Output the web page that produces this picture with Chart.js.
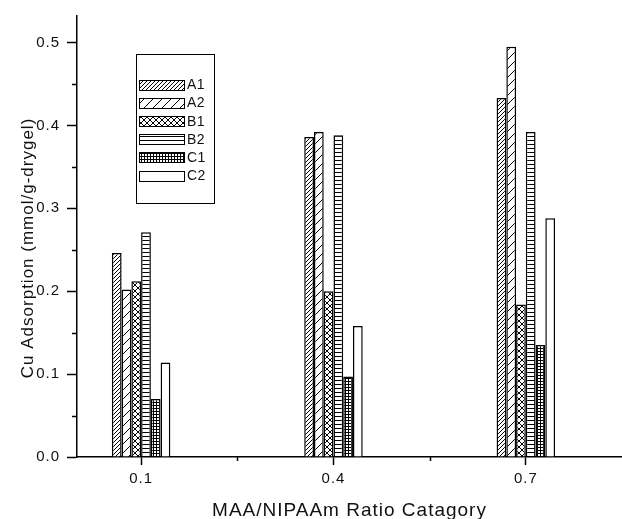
<!DOCTYPE html>
<html>
<head>
<meta charset="utf-8">
<script src="https://cdn.jsdelivr.net/npm/chart.js@4/dist/chart.umd.min.js"></script>
<style>
html,body{margin:0;padding:0;background:#fff;}
#wrap{position:relative;width:622px;height:519px;}
</style>
</head>
<body>
<div id="wrap"><canvas id="c"></canvas></div>
<script>
// ---- data ----
const categories = [0.1, 0.4, 0.7];
const seriesNames = ['A1', 'A2', 'B1', 'B2', 'C1', 'C2'];
const A1 = [0.246, 0.386, 0.433];
const A2 = [0.202, 0.392, 0.495];
const B1 = [0.212, 0.200, 0.184];
const B2 = [0.271, 0.388, 0.392];
const C1 = [0.070, 0.097, 0.135];
const C2 = [0.114, 0.158, 0.288];
const xTicks = [0.1, 0.4, 0.7];
const xMinorTicks = [0.25, 0.55];
const yTicks = [0, 0.1, 0.2, 0.3, 0.4, 0.5];
const yMinorTicks = [0.05, 0.15, 0.25, 0.35, 0.45];
const xTitle = 'MAA/NIPAAm Ratio Catagory';
const yTitle = 'Cu Adsorption (mmol/g-drygel)    ';

const seriesValues = [A1, A2, B1, B2, C1, C2];
const patternKinds = ['dense', 'sparse', 'cross', 'horiz', 'grid', 'blank'];

function makePattern(kind) {
  const sizes = {dense: 4, sparse: 9, cross: 6, horiz: 4, grid: 3, blank: 4};
  const n = sizes[kind];
  const cv = document.createElement('canvas');
  cv.width = n; cv.height = n;
  const g = cv.getContext('2d');
  g.fillStyle = '#fff';
  g.fillRect(0, 0, n, n);
  g.fillStyle = '#000';
  for (let i = 0; i < n; i++) {
    if (kind === 'dense' || kind === 'sparse') g.fillRect(i, n - 1 - i, 1, 1);
    if (kind === 'cross') { g.fillRect(i, n - 1 - i, 1, 1); g.fillRect(i, i, 1, 1); }
  }
  if (kind === 'horiz') g.fillRect(0, 0, n, 1);
  if (kind === 'grid') { g.fillRect(0, 0, n, 1); g.fillRect(0, 0, 1, n); }
  const ctx = document.createElement('canvas').getContext('2d');
  return ctx.createPattern(cv, 'repeat');
}

const FONT = "'Liberation Sans', Arial, sans-serif";

const datasets = seriesNames.map((name, k) => ({
  label: name,
  data: categories.map((x, i) => ({x: x, y: seriesValues[k][i]})),
  backgroundColor: makePattern(patternKinds[k]),
  borderColor: '#000',
  borderWidth: 1.5,
  categoryPercentage: 0.304,
  barPercentage: 1.0
}));

const spacingPlugin = {
  id: 'spacing',
  beforeDraw(chart) { chart.ctx.letterSpacing = '1px'; }
};

const minorTicksPlugin = {
  id: 'minorTicks',
  afterDraw(chart) {
    const ctx = chart.ctx;
    const xs = chart.scales.x, ys = chart.scales.y;
    ctx.save();
    ctx.strokeStyle = '#000';
    ctx.lineWidth = 1.5;
    ctx.beginPath();
    xMinorTicks.forEach(v => {
      const px = Math.round(xs.getPixelForValue(v)) + 0.5;
      ctx.moveTo(px, xs.top); ctx.lineTo(px, xs.top + 4);
    });
    yMinorTicks.forEach(v => {
      const py = Math.round(ys.getPixelForValue(v)) + 0.5;
      ctx.moveTo(ys.right, py); ctx.lineTo(ys.right - 5, py);
    });
    ctx.stroke();
    ctx.restore();
  }
};

const boxLegendPlugin = {
  id: 'boxLegend',
  afterDraw(chart) {
    const ctx = chart.ctx;
    const area = chart.chartArea;
    const bx = area.left + 59, by = area.top + 38, bw = 78, bh = 149;
    ctx.save();
    ctx.letterSpacing = '0.5px';
    ctx.fillStyle = '#fff';
    ctx.fillRect(bx, by, bw, bh);
    ctx.strokeStyle = '#000';
    ctx.lineWidth = 1;
    ctx.strokeRect(bx + 0.5, by + 0.5, bw, bh);
    ctx.font = '14px ' + FONT;
    ctx.textBaseline = 'middle';
    chart.data.datasets.forEach((ds, i) => {
      const cy = by + 31 + i * 18.1;
      ctx.fillStyle = ds.backgroundColor;
      ctx.fillRect(bx + 3, Math.round(cy - 5), 45, 10);
      ctx.strokeRect(bx + 3.5, Math.round(cy - 5) + 0.5, 45, 10);
      ctx.fillStyle = '#111';
      ctx.fillText(ds.label, bx + 51, cy + 0.5);
    });
    ctx.restore();
  }
};

new Chart(document.getElementById('c'), {
  type: 'bar',
  data: {datasets: datasets},
  plugins: [spacingPlugin, minorTicksPlugin, boxLegendPlugin],
  options: {
    responsive: true,
    maintainAspectRatio: false,
    animation: false,
    events: [],
    layout: {padding: {top: 15, right: 0, left: 0, bottom: 0}},
    plugins: {legend: {display: false}, tooltip: {enabled: false}},
    scales: {
      x: {
        type: 'linear',
        min: 0,
        max: 0.85,
        offset: false,
        afterBuildTicks: s => { s.ticks = xTicks.map(v => ({value: v})); },
        afterFit: s => { s.height = 62; },
        ticks: {
          color: '#111',
          font: {family: FONT, size: 15},
          padding: 5,
          callback: v => Number(v).toFixed(1)
        },
        grid: {display: true, offset: false, drawOnChartArea: false, drawTicks: true, tickLength: 8, tickColor: '#000', tickWidth: 1.5},
        border: {display: true, color: '#000', width: 1.5},
        title: {display: true, text: xTitle, color: '#111', font: {family: FONT, size: 19, lineHeight: 1}, padding: {top: 0, bottom: -1}}
      },
      y: {
        type: 'linear',
        min: 0,
        max: 0.532,
        afterBuildTicks: s => { s.ticks = yTicks.map(v => ({value: v})); },
        afterFit: s => { s.width = 77; },
        ticks: {
          color: '#111',
          font: {family: FONT, size: 15},
          padding: 7,
          callback: v => Number(v).toFixed(1)
        },
        grid: {display: true, drawOnChartArea: false, drawTicks: true, tickLength: 10, tickColor: '#000', tickWidth: 1.5},
        border: {display: true, color: '#000', width: 1.5},
        title: {display: true, text: yTitle, color: '#111', font: {family: FONT, size: 17, lineHeight: 1}, padding: {top: 20, bottom: 0}}
      }
    }
  }
});
</script>
</body>
</html>
